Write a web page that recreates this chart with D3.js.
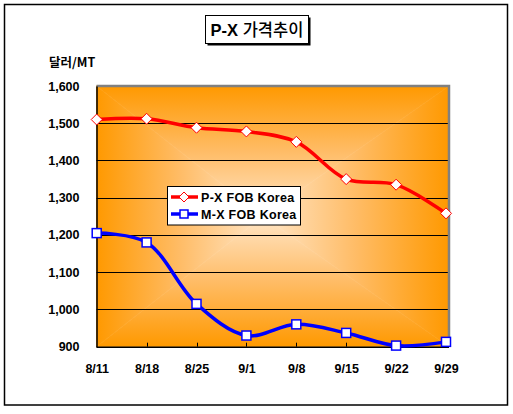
<!DOCTYPE html>
<html><head><meta charset="utf-8">
<script src="https://cdn.jsdelivr.net/npm/d3@7/dist/d3.min.js"></script>
<style>body{margin:0;background:#fff}svg{display:block}</style>
</head><body>
<script>
const categories = ["8/11","8/18","8/25","9/1","9/8","9/15","9/22","9/29"];
const pxValues = [1510,1512,1488,1478,1450,1350,1335,1258];
const mxValues = [1205,1180,1015,930,960,937,903,913];
const yTicks = [900,1000,1100,1200,1300,1400,1500,1600];
const seriesNames = ["P-X FOB Korea","M-X FOB Korea"];
const titleText = ["P-X ", "가격추이"];
const unitText = "달러/MT";

const W=513,H=414;
const svg=d3.select("body").append("svg").attr("width",W).attr("height",H);
const font="'Liberation Sans', Arial, 'Noto Sans CJK KR', sans-serif";

// outer border
svg.append("rect").attr("x",4.5).attr("y",4.5).attr("width",503).attr("height",400.5)
  .attr("fill","#fff").attr("stroke","#000").attr("stroke-width",1.5);

// plot area
const pl=96.5, pr=449, pt=86, pb=346.7;
const x=d3.scalePoint().domain(categories).range([pl+0.2,446]);
const y=d3.scaleLinear().domain([900,1600]).range([pb,pt]);

// rectangular "from center" gradient via four triangles
const defs=svg.append("defs");
const cx=(pl+pr)/2-10, cy=(pt+pb)/2;
const edge="#FF9900", mid="#FFBC66", center="#FFE6C8";
function grad(id,x1,y1,x2,y2){
  const g=defs.append("linearGradient").attr("id",id).attr("gradientUnits","userSpaceOnUse")
    .attr("x1",x1).attr("y1",y1).attr("x2",x2).attr("y2",y2);
  g.append("stop").attr("offset",0).attr("stop-color",edge);
  g.append("stop").attr("offset",0.5).attr("stop-color",mid);
  g.append("stop").attr("offset",1).attr("stop-color",center);
}
grad("gT",cx,pt,cx,cy); grad("gB",cx,pb,cx,cy); grad("gL",pl,cy,cx,cy); grad("gR",pr,cy,cx,cy);
const tri=[["gT",[[pl,pt],[pr,pt],[cx,cy]]],["gB",[[pl,pb],[pr,pb],[cx,cy]]],
           ["gL",[[pl,pt],[pl,pb],[cx,cy]]],["gR",[[pr,pt],[pr,pb],[cx,cy]]]];
tri.forEach(([id,pts])=>{
  svg.append("polygon").attr("points",pts.map(p=>p.join(",")).join(" "))
    .attr("fill",`url(#${id})`).attr("stroke",`url(#${id})`).attr("stroke-width",0.6);
});

// gridlines
svg.append("g").selectAll("line").data(yTicks.filter(v=>v>900&&v<1600)).join("line")
  .attr("x1",pl).attr("x2",pr).attr("y1",d=>Math.round(y(d))+0.5).attr("y2",d=>Math.round(y(d))+0.5)
  .attr("stroke","#000").attr("stroke-width",1);

// plot border top/right gray
svg.append("path").attr("d",`M${pl},${pt} H${pr} V${pb}`).attr("fill","none")
  .attr("stroke","#808080").attr("stroke-width",2.5);

// y axis
const yAxis=svg.append("g").attr("transform",`translate(${pl},0)`)
  .call(d3.axisLeft(y).tickValues(yTicks).tickSize(0).tickPadding(17).tickFormat(d3.format(",")));
yAxis.select(".domain").attr("stroke","#000").attr("stroke-width",1.5);
yAxis.selectAll("text").attr("font-family",font).attr("font-weight","bold").attr("font-size",12.5).attr("fill","#000");

// x axis
const xAxis=svg.append("g").attr("transform",`translate(0,${pb})`)
  .call(d3.axisBottom(x).tickSize(0).tickPadding(17));
xAxis.select(".domain").attr("d",`M${pl},0.5H${pr}`).attr("stroke","#000").attr("stroke-width",1.5);
xAxis.selectAll("text").attr("font-family",font).attr("font-weight","bold").attr("font-size",12.5).attr("fill","#000");
svg.append("g").selectAll("line").data(categories.slice(1,-1)).join("line")
  .attr("x1",d=>Math.round(x(d))+0.5).attr("x2",d=>Math.round(x(d))+0.5).attr("y1",pb-4).attr("y2",pb)
  .attr("stroke","#000");

// lines
const line=d3.line().x((d,i)=>x(categories[i])).y(d=>y(d)).curve(d3.curveCatmullRom.alpha(0.5));
svg.append("path").datum(pxValues).attr("d",line).attr("fill","none").attr("stroke","#FF0000").attr("stroke-width",3.5);
svg.append("path").datum(mxValues).attr("d",line).attr("fill","none").attr("stroke","#0000FF").attr("stroke-width",3.5);

function diamondPath(cx,cy,r){return `M${cx},${cy-r}L${cx+r},${cy}L${cx},${cy+r}L${cx-r},${cy}Z`;}
svg.append("g").selectAll("path").data(pxValues).join("path")
  .attr("d",(d,i)=>diamondPath(x(categories[i]),y(d),5.5))
  .attr("fill","#fff").attr("stroke","#FF0000").attr("stroke-width",1);
svg.append("g").selectAll("rect").data(mxValues).join("rect")
  .attr("x",(d,i)=>x(categories[i])-4.5).attr("y",d=>y(d)-4.5).attr("width",9).attr("height",9)
  .attr("fill","#fff").attr("stroke","#0000FF").attr("stroke-width",1.5);

// legend
const lg=svg.append("g");
lg.append("rect").attr("x",167.5).attr("y",186.5).attr("width",133).attr("height",38.5)
  .attr("fill","#fff").attr("stroke","#000").attr("stroke-width",1);
const rows=[{name:seriesNames[0],color:"#FF0000",type:"d",yy:197},{name:seriesNames[1],color:"#0000FF",type:"s",yy:214}];
rows.forEach(r=>{
  lg.append("line").attr("x1",171).attr("x2",198).attr("y1",r.yy).attr("y2",r.yy).attr("stroke",r.color).attr("stroke-width",3.5);
  if(r.type==="d") lg.append("path").attr("d",diamondPath(184,r.yy,5)).attr("fill","#fff").attr("stroke",r.color);
  else lg.append("rect").attr("x",180).attr("y",r.yy-4).attr("width",8).attr("height",8).attr("fill","#fff").attr("stroke",r.color).attr("stroke-width",1.5);
  lg.append("text").attr("x",201).attr("y",r.yy).attr("dy","0.36em").attr("font-family",font)
    .attr("font-weight","bold").attr("font-size",12.5).attr("letter-spacing",0.3).text(r.name);
});

// title box
svg.append("rect").attr("x",207.5).attr("y",17.5).attr("width",103).attr("height",28).attr("fill","#000");
svg.append("rect").attr("x",205.5).attr("y",15.5).attr("width",103).attr("height",28).attr("fill","#fff").attr("stroke","#000").attr("stroke-width",1);
const tt=svg.append("text").attr("x",257).attr("y",30).attr("dy","0.36em").attr("text-anchor","middle")
  .attr("font-family",font).attr("font-size",16.5);
tt.append("tspan").attr("font-weight","bold").text(titleText[0]);
tt.append("tspan").attr("font-family","'Noto Sans CJK KR', sans-serif").attr("font-weight","500").text(titleText[1]);

// unit label
svg.append("text").attr("x",49).attr("y",62).attr("dy","0.36em").attr("font-family","'Noto Sans CJK KR', "+font)
  .attr("font-weight","bold").attr("font-size",12.5).text(unitText);
</script>
</body></html>
